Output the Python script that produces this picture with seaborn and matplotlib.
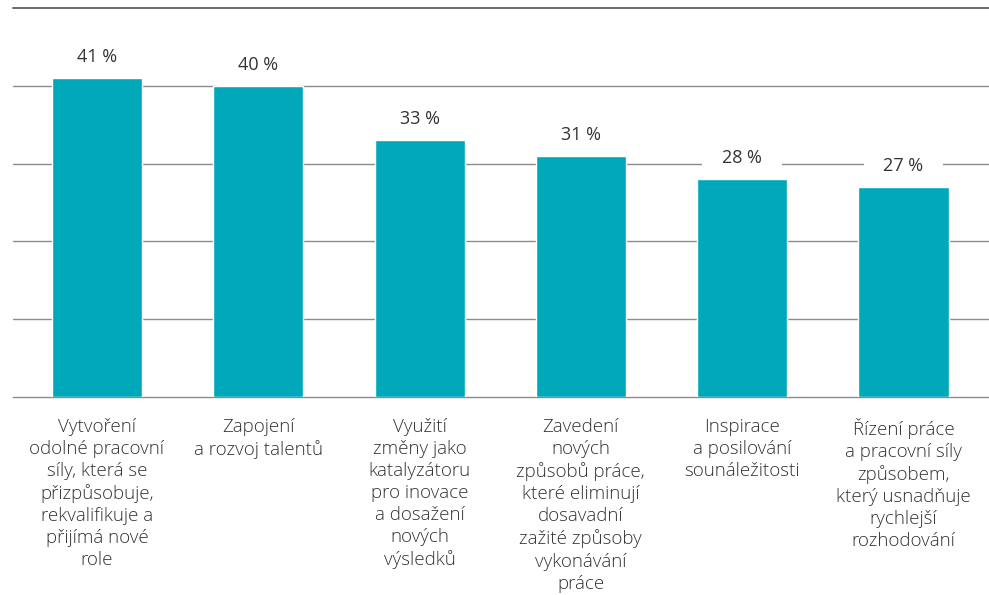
import matplotlib
matplotlib.use("Agg")
import matplotlib.pyplot as plt
import seaborn as sns
import pandas as pd

categories = [
    "Vytvoření\nodolné pracovní\nsíly, která se\npřizpůsobuje,\nrekvalifikuje a\npřijímá nové\nrole",
    "Zapojení\na rozvoj talentů",
    "Využití\nzměny jako\nkatalyzátoru\npro inovace\na dosažení\nnových\nvýsledků",
    "Zavedení\nnových\nzpůsobů práce,\nkteré eliminují\ndosavadní\nzažité způsoby\nvykonávání\npráce",
    "Inspirace\na posilování\nsounáležitosti",
    "Řízení práce\na pracovní síly\nzpůsobem,\nkterý usnadňuje\nrychlejší\nrozhodování",
]
values = [41, 40, 33, 31, 28, 27]
value_labels = ["41 %", "40 %", "33 %", "31 %", "28 %", "27 %"]

BAR_COLOR = "#00A8BA"
GRID_COLOR = "#8c8c8c"
TOP_LINE_COLOR = "#6a6a6a"
TEXT_COLOR = "#333333"

sns.set_theme(style="white")
plt.rcParams["font.family"] = ["Open Sans", "DejaVu Sans"]

df = pd.DataFrame({"category": categories, "value": values})

fig = plt.figure(figsize=(9.89, 5.95), dpi=100)
ax = fig.add_axes([13 / 989, 198 / 595, 976 / 989, 389 / 595])

sns.barplot(data=df, x="category", y="value", color=BAR_COLOR,
            saturation=1, width=0.558, ax=ax, zorder=3)

ax.set_ylim(0, 50)
ax.set_xlim(-0.52, 5.53)
ax.set_yticks([10, 20, 30, 40])
ax.set_yticklabels([])
ax.yaxis.grid(True, color=GRID_COLOR, linewidth=1.0, zorder=0)
ax.set_axisbelow(True)
ax.axhline(50, color=TOP_LINE_COLOR, linewidth=1.4, zorder=1, clip_on=False)
ax.tick_params(axis="both", length=0)
ax.tick_params(axis="x", pad=15)
for lbl in ax.get_xticklabels():
    lbl.set_fontsize(13.5)
    lbl.set_color(TEXT_COLOR)
    lbl.set_fontweight("light")
    lbl.set_linespacing(1.29)
ax.set_xlabel("")
ax.set_ylabel("")

for side in ["top", "left", "right"]:
    ax.spines[side].set_visible(False)
ax.spines["bottom"].set_color(GRID_COLOR)
ax.spines["bottom"].set_linewidth(1.0)

# value labels sit on a white box that interrupts the gridlines
for i, (v, t) in enumerate(zip(values, value_labels)):
    ax.annotate(t, xy=(i, v), xytext=(0, 15), textcoords="offset points",
                ha="center", va="center", fontsize=13, color=TEXT_COLOR,
                bbox=dict(boxstyle="square,pad=1.1", fc="white", ec="none"),
                zorder=2)

fig.savefig("out.png", dpi=100, facecolor="white")
